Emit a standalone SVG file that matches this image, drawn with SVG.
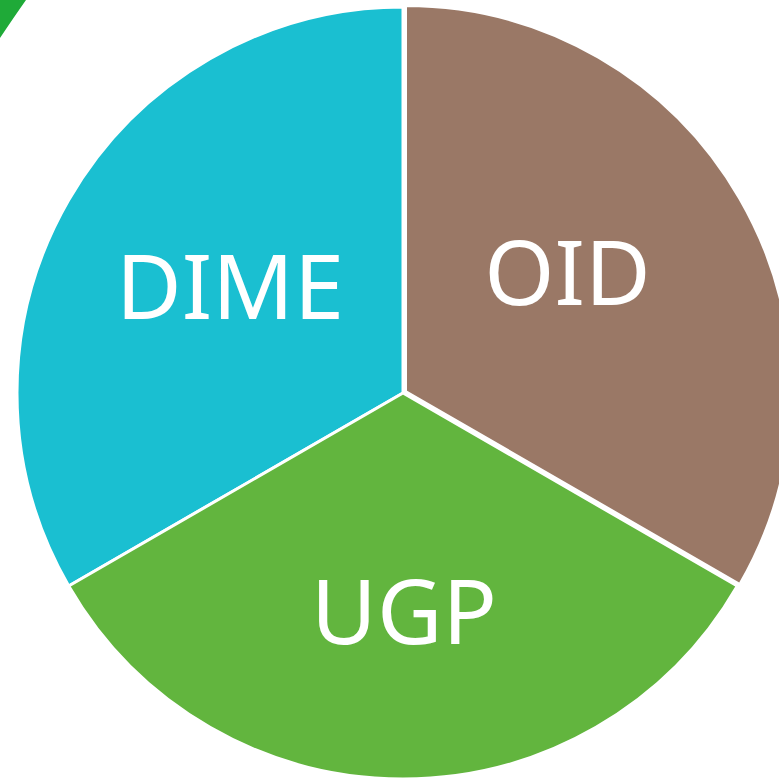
<svg xmlns="http://www.w3.org/2000/svg" width="779" height="780" viewBox="0 0 779 780">
<style>
.slice{stroke:#ffffff;stroke-width:3;stroke-linejoin:round}
.lbl{font-family:"Noto Sans","Open Sans",sans-serif;font-size:90px;fill:#ffffff;text-anchor:middle}
</style>
<rect width="779" height="780" fill="#ffffff"/>
<path d="M0,0 L26,0 Q14,17 0,38 Z" fill="#1faa38"/>
<g id="dime">
<path class="slice" d="M403,393 L403,7 A386,386 0 0 0 68.7,586 Z" fill="#1abfd1"/>
<text class="lbl" x="230" y="319">DIME</text>
</g>
<g id="ugp">
<path class="slice" d="M403,393 L68.7,586 A386,386 0 0 0 737.3,586 Z" fill="#62b53e"/>
<text class="lbl" x="404" y="644">UGP</text>
</g>
<g id="oid" transform="translate(2.5,-1.5)">
<path class="slice" d="M403,393 L403,7 A386,386 0 0 1 737.3,586 Z" fill="#9a7866"/>
<text class="lbl" x="565" y="306">OID</text>
</g>
</svg>
